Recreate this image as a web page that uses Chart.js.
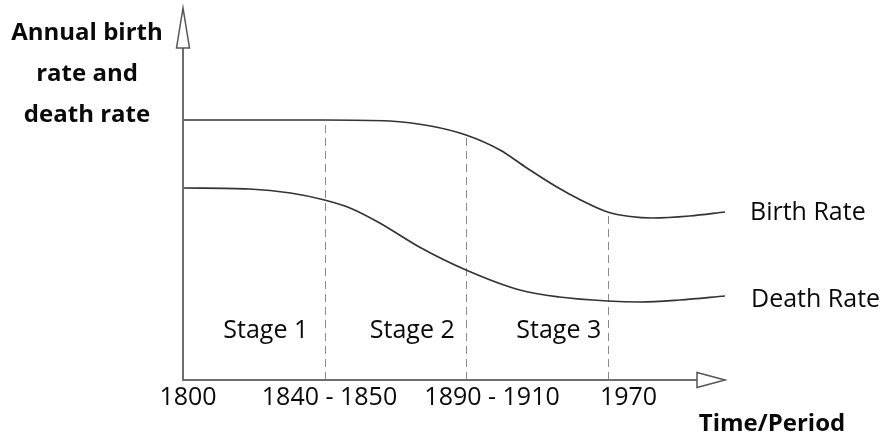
<!DOCTYPE html>
<html>
<head>
<meta charset="utf-8">
<script src="https://cdn.jsdelivr.net/npm/chart.js@4.4.0/dist/chart.umd.min.js"></script>
<style>
  html, body { margin: 0; padding: 0; background: #fff; }
  #wrap { width: 881px; height: 437px; position: relative; }
</style>
</head>
<body>
<div id="wrap"><canvas id="chart" width="881" height="437"></canvas></div>
<script>
// --- Datos (eje x: 0 = 1800, 1 = 1840-1850, 2 = 1890-1910, 3 = 1970) ---
const periodLabels = ['1800', '1840 - 1850', '1890 - 1910', '1970'];
const stageLabels = ['Stage 1', 'Stage 2', 'Stage 3'];
const yTitle = ['Annual birth', 'rate and', 'death rate'];
const xTitle = 'Time/Period';

const birthX = [0, 0.69, 1, 1.46, 1.75, 2, 2.24, 2.43, 2.63, 2.81, 3, 3.16, 3.32, 3.58, 3.83];
const birthY = [26.0, 26.0, 26.0, 25.9, 25.4, 24.5, 23.0, 21.2, 19.4, 18.0, 16.8, 16.35, 16.2, 16.4, 16.8];

const deathX = [0, 0.47, 0.76, 1, 1.18, 1.39, 1.67, 2, 2.38, 2.66, 3, 3.23, 3.51, 3.83];
const deathY = [19.2, 19.1, 18.7, 18.0, 17.2, 15.7, 13.3, 11.0, 9.0, 8.3, 7.9, 7.8, 8.0, 8.4];

const FONT = '"Open Sans", "Noto Sans", sans-serif';

// --- Plugin: ejes con flechas, líneas punteadas y textos ---
const diagramPlugin = {
    id: 'diagram',
    beforeDatasetsDraw(chart) {
        const { ctx, scales } = chart;
        const x = scales.x, y = scales.y;
        const yBase = y.getPixelForValue(0);

        // Líneas punteadas verticales hasta la curva de natalidad
        ctx.save();
        ctx.strokeStyle = '#8a8a8a';
        ctx.lineWidth = 1;
        ctx.setLineDash([8, 5]);
        [1, 2, 3].forEach(v => {
            const idx = birthX.indexOf(v);
            const px = Math.round(x.getPixelForValue(v)) + 0.5;
            ctx.beginPath();
            ctx.moveTo(px, yBase);
            ctx.lineTo(px, y.getPixelForValue(birthY[idx]));
            ctx.stroke();
        });
        ctx.restore();
    },
    afterDraw(chart) {
        const { ctx, chartArea, scales } = chart;
        const x = scales.x, y = scales.y;
        const x0 = x.getPixelForValue(0);
        const yBase = y.getPixelForValue(0);
        const xEnd = chartArea.right;
        const yTop = chartArea.top;

        ctx.save();
        ctx.strokeStyle = '#6e6e6e';
        ctx.lineWidth = 2;
        // eje y
        ctx.beginPath();
        ctx.moveTo(x0, yBase);
        ctx.lineTo(x0, yTop + 38);
        ctx.stroke();
        // eje x
        ctx.beginPath();
        ctx.moveTo(x0 - 1, yBase);
        ctx.lineTo(xEnd - 28, yBase);
        ctx.stroke();

        // flechas abiertas
        ctx.lineWidth = 1.5;
        ctx.strokeStyle = '#555';
        ctx.fillStyle = '#fff';
        ctx.beginPath();
        ctx.moveTo(x0, yTop - 2);
        ctx.lineTo(x0 - 6.5, yTop + 38);
        ctx.lineTo(x0 + 6.5, yTop + 38);
        ctx.closePath();
        ctx.fill();
        ctx.stroke();

        ctx.beginPath();
        ctx.moveTo(xEnd, yBase);
        ctx.lineTo(xEnd - 28, yBase - 7.5);
        ctx.lineTo(xEnd - 28, yBase + 7.5);
        ctx.closePath();
        ctx.fill();
        ctx.stroke();

        // textos
        ctx.fillStyle = '#0a0a0a';
        ctx.textBaseline = 'middle';
        ctx.font = '25px ' + FONT;

        // etiquetas del eje x
        ctx.textAlign = 'center';
        const labelShift = [5, 5, 26, 21];
        periodLabels.forEach((lab, i) => {
            ctx.fillText(lab, x.getPixelForValue(i) + labelShift[i], yBase + 18);
        });

        // etapas
        const stageShift = [12, 17, 22];
        stageLabels.forEach((lab, i) => {
            ctx.fillText(lab, x.getPixelForValue(i + 0.5) + stageShift[i], yBase - 49);
        });

        // nombres de las series
        ctx.textAlign = 'left';
        ctx.fillText('Birth Rate', 750, y.getPixelForValue(birthY[birthY.length - 1]) + 1);
        ctx.fillText('Death Rate', 751, y.getPixelForValue(deathY[deathY.length - 1]) + 4);

        // títulos en negrita
        ctx.font = 'bold 24px ' + FONT;
        ctx.textAlign = 'center';
        yTitle.forEach((t, i) => ctx.fillText(t, 87, 33 + i * 41));
        ctx.fillText(xTitle, 772, yBase + 44);
        ctx.restore();
    }
};

const lineStyle = {
    borderColor: '#333',
    borderWidth: 1.7,
    pointRadius: 0,
    fill: false,
    cubicInterpolationMode: 'monotone'
};

new Chart(document.getElementById('chart'), {
    type: 'line',
    data: {
        datasets: [
            Object.assign({ label: 'Birth Rate', data: birthX.map((v, i) => ({ x: v, y: birthY[i] })) }, lineStyle),
            Object.assign({ label: 'Death Rate', data: deathX.map((v, i) => ({ x: v, y: deathY[i] })) }, lineStyle)
        ]
    },
    options: {
        responsive: false,
        animation: false,
        layout: { padding: { left: 183, right: 156, top: 10, bottom: 57 } },
        scales: {
            x: { type: 'linear', min: 0, max: 3.83, display: false },
            y: { type: 'linear', min: 0, max: 37, display: false }
        },
        plugins: {
            legend: { display: false },
            tooltip: { enabled: false }
        }
    },
    plugins: [diagramPlugin]
});
</script>
</body>
</html>
